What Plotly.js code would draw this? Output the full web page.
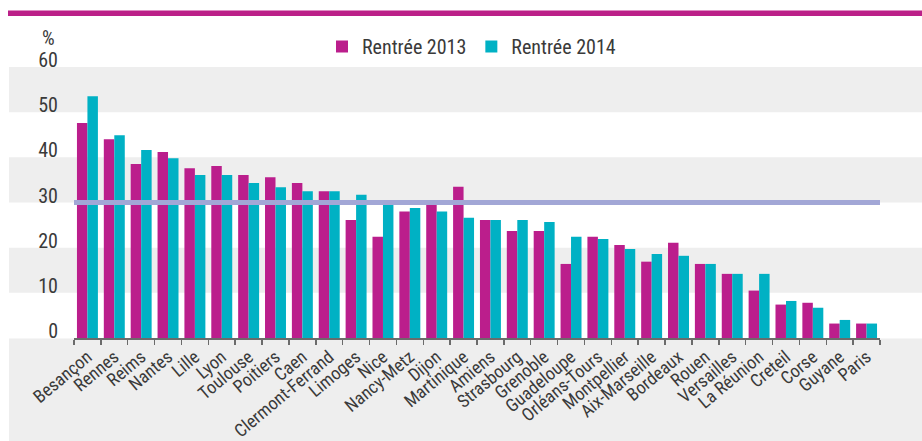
<!DOCTYPE html>
<html><head><meta charset="utf-8">
<script src="https://cdn.plot.ly/plotly-3.0.1.min.js"></script>
<style>html,body{margin:0;padding:0;background:#fff;overflow:hidden}</style>
</head><body><div id="chart" style="width:922px;height:441px"></div>
<script>
const categories = ["Besançon","Rennes","Reims","Nantes","Lille","Lyon","Toulouse","Poitiers","Caen","Clermont-Ferrand","Limoges","Nice","Nancy-Metz","Dijon","Martinique","Amiens","Strasbourg","Grenoble","Guadeloupe","Orléans-Tours","Montpellier","Aix-Marseille","Bordeaux","Rouen","Versailles","La Réunion","Creteil","Corse","Guyane","Paris"];
const rentree2013 = [47.6,44.0,38.5,41.2,37.6,38.1,36.1,35.6,34.3,32.5,26.1,22.4,28.0,29.9,33.5,26.1,23.7,23.7,16.4,22.4,20.6,16.9,21.1,16.4,14.2,10.5,7.4,7.8,3.2,3.2];
const rentree2014 = [53.5,44.9,41.6,39.8,36.1,36.1,34.3,33.4,32.5,32.5,31.7,30.0,28.8,28.0,26.6,26.1,26.1,25.7,22.4,21.9,19.7,18.6,18.2,16.4,14.2,14.2,8.2,6.7,4.0,3.2];
const seriesNames = ["Rentrée 2013","Rentrée 2014"];
const referenceLevel = 30;
const yTicks = [0,10,20,30,40,50,60];
const shadedBands = [[10,20],[30,40],[50,60]];

const W = 922, H = 441;
const M = {l:74, r:42, t:67, b:103};
const PW = W - M.l - M.r, PH = H - M.t - M.b;
const px = p => (p - M.l) / PW;          // pixel x -> paper x
const py = p => (H - M.b - p) / PH;      // pixel y -> paper y

const FONT = "Roboto Condensed, Liberation Sans Narrow, Roboto, sans-serif";
const TXT = "#3a3a3a";
const MAGENTA = "#bb1e8c", CYAN = "#00b1c4";

const traces = [
  {type:"bar", name:seriesNames[0], x:categories, y:rentree2013, marker:{color:MAGENTA}, hoverinfo:"x+y"},
  {type:"bar", name:seriesNames[1], x:categories, y:rentree2014, marker:{color:CYAN}, hoverinfo:"x+y"}
];

const shapes = [];
// top magenta rule
shapes.push({type:"rect", xref:"paper", yref:"paper", x0:px(8), x1:px(922), y0:py(16), y1:py(10.5), fillcolor:"#bb2088", line:{width:0}, layer:"below"});
// gray area under the axis
shapes.push({type:"rect", xref:"paper", yref:"paper", x0:px(9), x1:px(922), y0:py(441), y1:py(338.5), fillcolor:"#eeeeee", line:{width:0}, layer:"below"});
// alternating bands
shadedBands.forEach(b => shapes.push({type:"rect", xref:"paper", yref:"y", x0:px(9), x1:px(922), y0:b[0], y1:b[1], fillcolor:"#eeeeee", line:{width:0}, layer:"below"}));
// reference line at 30
shapes.push({type:"line", xref:"paper", yref:"y", x0:0, x1:1, y0:referenceLevel, y1:referenceLevel, line:{color:"#a2a7d6", width:5}, layer:"above"});

const layout = {
  width:W, height:H, margin:M, paper_bgcolor:"#ffffff", plot_bgcolor:"rgba(0,0,0,0)",
  font:{family:FONT, color:TXT, size:20},
  barmode:"group", bargap:0.22, bargroupgap:0,
  showlegend:true,
  legend:{orientation:"h", x:px(322), y:py(27), xanchor:"left", yanchor:"top", font:{family:FONT, size:20, color:TXT}, bgcolor:"rgba(0,0,0,0)", itemwidth:30, traceorder:"normal"},
  xaxis:{type:"category", tickangle:-40, tickfont:{family:FONT, size:18, color:TXT}, showline:true, linecolor:"#6b6b6b", linewidth:1.5, ticks:"outside", ticklen:5, tickcolor:"#6b6b6b", tickwidth:1.5, tickson:"boundaries", showgrid:false, zeroline:false, automargin:false, fixedrange:true},
  yaxis:{range:[0,60], tickvals:yTicks, ticktext:yTicks.map(String), ticks:"", showgrid:false, zeroline:false, showline:false, tickfont:{family:FONT, size:20, color:TXT}, ticklabelstandoff:15, ticklabelshift:-7, automargin:false, fixedrange:true},
  shapes:shapes,
  annotations:[{text:"%", xref:"paper", yref:"paper", x:px(48), y:py(38), xanchor:"center", yanchor:"middle", showarrow:false, font:{family:FONT, size:20, color:TXT}}]
};

Plotly.newPlot("chart", traces, layout, {displayModeBar:false, staticPlot:true});
</script></body></html>
